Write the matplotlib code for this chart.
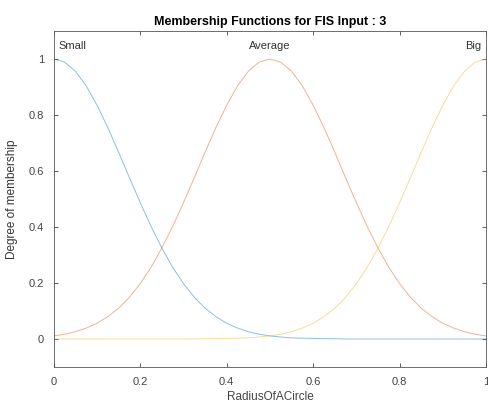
import matplotlib.pyplot as plt

# membership values, x from 0 to 1 in steps of 0.025
x = [i * 0.025 for i in range(41)]

small = [1.000, 0.989, 0.956, 0.904, 0.835, 0.755, 0.667, 0.576, 0.487, 0.402,
         0.325, 0.256, 0.198, 0.149, 0.110, 0.080, 0.056, 0.039, 0.026, 0.017,
         0.011, 0.007, 0.004, 0.003, 0.002, 0.001, 0.001, 0.000, 0.000, 0.000,
         0.000, 0.000, 0.000, 0.000, 0.000, 0.000, 0.000, 0.000, 0.000, 0.000,
         0.000]
average = [0.011, 0.017, 0.026, 0.039, 0.056, 0.080, 0.110, 0.149, 0.198, 0.256,
           0.325, 0.402, 0.487, 0.576, 0.667, 0.755, 0.835, 0.904, 0.956, 0.989,
           1.000, 0.989, 0.956, 0.904, 0.835, 0.755, 0.667, 0.576, 0.487, 0.402,
           0.325, 0.256, 0.198, 0.149, 0.110, 0.080, 0.056, 0.039, 0.026, 0.017,
           0.011]
big = small[::-1]

mf_names = ['Small', 'Average', 'Big']
mf_peaks = [0.0, 0.5, 1.0]
colors = ['#0072BD', '#D95319', '#EDB120']

plt.rcParams['font.family'] = ['Liberation Sans', 'DejaVu Sans']

fig = plt.figure(figsize=(4.89, 4.08), dpi=100)
ax = fig.add_axes([0.110, 0.1005, 0.884, 0.8235])

for ys, c in zip([small, average, big], colors):
    ax.plot(x, ys, color=c, lw=0.7, alpha=0.45)

aligns = ['left', 'center', 'right']
offs = [0.01, 0.0, -0.01]
for name, px, ha, o in zip(mf_names, mf_peaks, aligns, offs):
    ax.text(px + o, 1.045, name, ha=ha, va='center', fontsize=8, color='#333333')

ax.set_xlim(0, 1)
ax.set_ylim(-0.1, 1.1)
ax.set_xticks([0, 0.2, 0.4, 0.6, 0.8, 1])
ax.set_xticklabels(['0', '0.2', '0.4', '0.6', '0.8', '1'])
ax.set_yticks([0, 0.2, 0.4, 0.6, 0.8, 1])
ax.set_yticklabels(['0', '0.2', '0.4', '0.6', '0.8', '1'])
ax.tick_params(direction='in', length=3, width=0.6, top=True, right=True,
               labelsize=8, colors='#444444', pad=7)
for s in ax.spines.values():
    s.set_color('#555555')
    s.set_linewidth(0.6)

ax.set_xlabel('RadiusOfACircle', fontsize=8.5, color='#444444', labelpad=3)
ax.set_ylabel('Degree of membership', fontsize=8.5, color='#333333', labelpad=8)
ax.set_title('Membership Functions for FIS Input : 3', fontsize=9,
             fontweight='bold', pad=4)

fig.savefig('out.png', dpi=100)
